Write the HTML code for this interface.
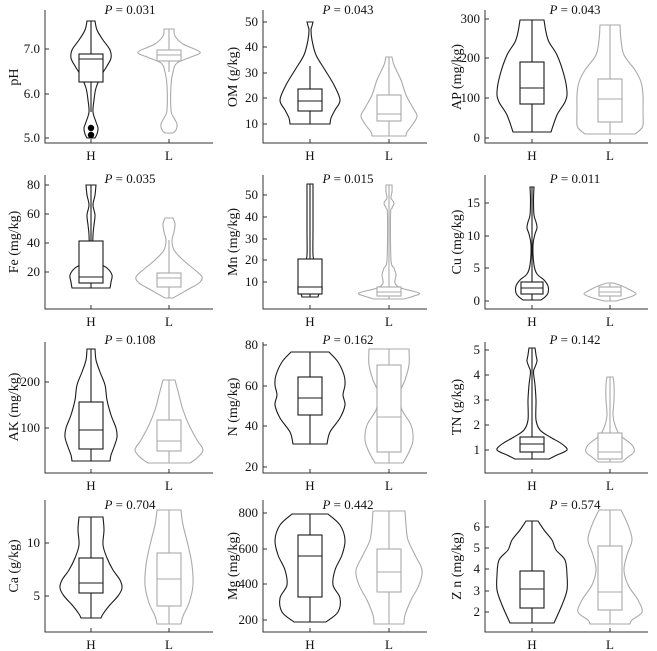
<!DOCTYPE html>
<html><head><meta charset="utf-8"><style>
html,body{margin:0;padding:0;background:#fff;}
svg{display:block;font-family:"Liberation Serif",serif;}
.t{font-size:13px;fill:#111;}
.a{font-size:14px;fill:#111;}
</style></head><body>
<svg id="s" width="657" height="651" viewBox="0 0 657 651" xmlns="http://www.w3.org/2000/svg">
<g id="g"></g>
<g class="t">
<text x="130" y="14" text-anchor="middle"><tspan font-style="italic">P</tspan> = 0.031</text>
<text x="348" y="14" text-anchor="middle"><tspan font-style="italic">P</tspan> = 0.043</text>
<text x="575" y="14" text-anchor="middle"><tspan font-style="italic">P</tspan> = 0.043</text>
<text x="130" y="183" text-anchor="middle"><tspan font-style="italic">P</tspan> = 0.035</text>
<text x="348" y="183" text-anchor="middle"><tspan font-style="italic">P</tspan> = 0.015</text>
<text x="575" y="183" text-anchor="middle"><tspan font-style="italic">P</tspan> = 0.011</text>
<text x="130" y="344" text-anchor="middle"><tspan font-style="italic">P</tspan> = 0.108</text>
<text x="348" y="344" text-anchor="middle"><tspan font-style="italic">P</tspan> = 0.162</text>
<text x="575" y="344" text-anchor="middle"><tspan font-style="italic">P</tspan> = 0.142</text>
<text x="130" y="509" text-anchor="middle"><tspan font-style="italic">P</tspan> = 0.704</text>
<text x="348" y="509" text-anchor="middle"><tspan font-style="italic">P</tspan> = 0.442</text>
<text x="575" y="509" text-anchor="middle"><tspan font-style="italic">P</tspan> = 0.574</text>
<text x="91" y="160" text-anchor="middle">H</text><text x="169" y="160" text-anchor="middle">L</text>
<text x="310" y="160" text-anchor="middle">H</text><text x="389" y="160" text-anchor="middle">L</text>
<text x="532" y="160" text-anchor="middle">H</text><text x="610" y="160" text-anchor="middle">L</text>
<text x="91" y="326" text-anchor="middle">H</text><text x="169" y="326" text-anchor="middle">L</text>
<text x="310" y="326" text-anchor="middle">H</text><text x="389" y="326" text-anchor="middle">L</text>
<text x="532" y="326" text-anchor="middle">H</text><text x="610" y="326" text-anchor="middle">L</text>
<text x="91" y="490" text-anchor="middle">H</text><text x="169" y="490" text-anchor="middle">L</text>
<text x="310" y="490" text-anchor="middle">H</text><text x="389" y="490" text-anchor="middle">L</text>
<text x="532" y="490" text-anchor="middle">H</text><text x="610" y="490" text-anchor="middle">L</text>
<text x="91" y="649" text-anchor="middle">H</text><text x="169" y="649" text-anchor="middle">L</text>
<text x="310" y="649" text-anchor="middle">H</text><text x="389" y="649" text-anchor="middle">L</text>
<text x="532" y="649" text-anchor="middle">H</text><text x="610" y="649" text-anchor="middle">L</text>
<g text-anchor="end">
<text x="40" y="53">7.0</text><text x="40" y="98">6.0</text><text x="40" y="142">5.0</text>
<text x="258" y="26">50</text><text x="258" y="51">40</text><text x="258" y="77">30</text><text x="258" y="102">20</text><text x="258" y="128">10</text>
<text x="480" y="23">300</text><text x="480" y="62">200</text><text x="480" y="102">100</text><text x="480" y="142">0</text>
<text x="40" y="189">80</text><text x="40" y="218">60</text><text x="40" y="247">40</text><text x="40" y="276">20</text>
<text x="258" y="199">50</text><text x="258" y="221">40</text><text x="258" y="243">30</text><text x="258" y="264">20</text><text x="258" y="286">10</text>
<text x="480" y="207">15</text><text x="480" y="240">10</text><text x="480" y="272">5</text><text x="480" y="305">0</text>
<text x="40" y="386">200</text><text x="40" y="432">100</text>
<text x="258" y="349">80</text><text x="258" y="390">60</text><text x="258" y="430">40</text><text x="258" y="471">20</text>
<text x="480" y="354">5</text><text x="480" y="379">4</text><text x="480" y="404">3</text><text x="480" y="429">2</text><text x="480" y="454">1</text>
<text x="40" y="547">10</text><text x="40" y="600">5</text>
<text x="258" y="517">800</text><text x="258" y="553">600</text><text x="258" y="588">400</text><text x="258" y="624">200</text>
<text x="480" y="531">6</text><text x="480" y="552">5</text><text x="480" y="573">4</text><text x="480" y="595">3</text><text x="480" y="616">2</text>
</g>
</g>
<g class="a" text-anchor="middle">
<text transform="translate(18,77) rotate(-90)">pH</text>
<text transform="translate(237,77) rotate(-90)">OM (g/kg)</text>
<text transform="translate(461,77) rotate(-90)">AP (mg/kg)</text>
<text transform="translate(18,242) rotate(-90)">Fe (mg/kg)</text>
<text transform="translate(237,242) rotate(-90)">Mn (mg/kg)</text>
<text transform="translate(461,242) rotate(-90)">Cu (mg/kg)</text>
<text transform="translate(18,407) rotate(-90)">AK (mg/kg)</text>
<text transform="translate(237,407) rotate(-90)">N (mg/kg)</text>
<text transform="translate(461,407) rotate(-90)">TN (g/kg)</text>
<text transform="translate(18,566) rotate(-90)">Ca (g/kg)</text>
<text transform="translate(237,566) rotate(-90)">Mg (mg/kg)</text>
<text transform="translate(461,566) rotate(-90)">Z n (mg/kg)</text>
</g>
</svg>
<script>
var NS="http://www.w3.org/2000/svg",g=document.getElementById("g");
function el(n,a){var e=document.createElementNS(NS,n);for(var k in a)e.setAttribute(k,a[k]);g.appendChild(e);return e;}
var cols=[{x:45,r:213,h:91,l:169},{x:263,r:427,h:310,l:389},{x:485,r:648,h:532,l:610}];
var rows=[{t:10,b:143},{t:175,b:309},{t:342,b:473},{t:500,b:632}];
var ticks=[[49,94,138],[22,47,73,98,124],[19,58,98,138],[185,214,243,272],[195,217,239,260,282],[203,236,268,301],[382,428],[345,386,426,467],[350,375,400,425,450],[543,596],[513,549,584,620],[527,548,569,591,612]];
for(var i=0;i<12;i++){var c=cols[i%3],r=rows[Math.floor(i/3)];
el("path",{d:"M"+c.x+" "+r.t+"V"+r.b+"H"+c.r,stroke:"#333",fill:"none","stroke-width":1});
ticks[i].forEach(function(y){el("line",{x1:c.x,x2:c.x+4,y1:y,y2:y,stroke:"#333"});});
[c.h,c.l].forEach(function(x){el("line",{x1:x,x2:x,y1:r.b,y2:r.b-4,stroke:"#333"});});}
function cr(pts){var d="";for(var i=0;i<pts.length-1;i++){var p0=pts[Math.max(i-1,0)],p1=pts[i],p2=pts[i+1],p3=pts[Math.min(i+2,pts.length-1)];
d+="C"+(p1[0]+(p2[0]-p0[0])/6).toFixed(1)+" "+(p1[1]+(p2[1]-p0[1])/6).toFixed(1)+" "+(p2[0]-(p3[0]-p1[0])/6).toFixed(1)+" "+(p2[1]-(p3[1]-p1[1])/6).toFixed(1)+" "+p2[0]+" "+p2[1];}return d;}
function V(cx,pts,box,wh,col){
var R=pts.map(function(p){return[cx+p[1],p[0]];}),L=pts.slice().reverse().map(function(p){return[cx-p[1],p[0]];});
var d="M"+L[L.length-1][0]+" "+L[L.length-1][1]+"L"+R[0][0]+" "+R[0][1]+cr(R)+"L"+L[0][0]+" "+L[0][1]+cr(L)+"Z";
el("path",{d:d,fill:"none",stroke:col,"stroke-width":1.1});
el("line",{x1:cx,x2:cx,y1:wh[0],y2:wh[1],stroke:col,"stroke-width":1.1});
var hw=box[3]||12;
el("rect",{x:cx-hw,y:box[0],width:2*hw,height:box[2]-box[0],fill:"#fff",stroke:col,"stroke-width":1.1});
el("line",{x1:cx-hw,x2:cx+hw,y1:box[1],y2:box[1],stroke:col,"stroke-width":1.1});}
var K="#1a1a1a",G="#aaaaaa";
V(91,[[21,4],[30,6],[40,12],[50,19],[58,20],[66,16],[76,10],[88,5],[100,3],[112,2],[122,5],[128,7],[134,6],[138,4]],[54,59,82],[21,112],K);
el("circle",{cx:91,cy:128,r:3.2,fill:"#000"});el("circle",{cx:91,cy:135,r:3.2,fill:"#000"});
V(169,[[29,5],[36,6],[44,14],[52,31],[57,22],[63,8],[72,4],[85,2],[110,2],[118,5],[124,8],[130,7],[133,4]],[50,55,61],[29,72],G);
V(310,[[22,3],[26,2],[30,1],[40,2],[55,6],[70,15],[85,24],[100,30],[110,25],[118,21],[124,20]],[89,101,111],[66,124],K);
V(389,[[57,3],[65,5],[80,12],[95,17],[108,24],[116,28],[124,24],[132,18],[136,17]],[95,114,121],[57,136],G);
V(532,[[20,12],[32,14],[42,17],[55,25],[75,32],[92,35],[102,33],[115,25],[132,19]],[62,88,104],[20,132],K);
V(610,[[25,10],[40,11],[55,14],[70,25],[82,31],[95,33],[110,33],[125,33],[130,30],[134,25]],[79,99,122],[25,134],G);
V(91,[[185,5],[195,4],[205,2],[215,4],[225,3],[235,2],[255,2],[262,6],[268,16],[275,21],[282,20],[288,19]],[241,277,283],[185,288],K);
V(169,[[218,4],[224,6],[232,5],[240,3],[250,5],[260,14],[270,26],[277,33],[283,30],[290,18],[298,4]],[273,278,287],[240,298],G);
V(310,[[184,3],[200,3],[230,3],[255,3],[262,5],[270,8],[280,11],[290,12],[294,9],[297,8]],[259,287,294],[184,297],K);
V(389,[[185,3],[192,3],[198,2],[203,5],[208,3],[215,1.5],[260,2],[268,5],[275,7],[283,6],[288,12],[293,30],[296,25],[299,15]],[287,292,296],[185,299],G);
V(532,[[187,2],[200,1.5],[215,2],[222,4],[228,5],[234,3],[245,1],[265,2],[274,5],[280,12],[286,16],[293,16],[297,13],[300,9]],[282,288,294,11],[187,300],K);
V(610,[[283,3],[286,12],[291,22],[294,26],[297,20],[301,6]],[287,292,296,11],[283,301],G);
// AK
V(91,[[349,4],[360,5],[372,9],[385,14],[400,16],[415,20],[428,25],[437,26],[447,23],[455,20],[461,19]],[402,430,449],[349,461],K);
V(169,[[380,6],[395,10],[410,14],[425,20],[440,28],[450,34],[458,28],[463,21]],[420,441,451],[380,463],G);
V(310,[[352,19],[362,28],[375,34],[385,35],[395,33],[405,35],[418,30],[432,20],[444,17]],[377,398,415],[352,444],K);
V(389,[[349,20],[365,20],[380,16],[395,10],[410,13],[425,22],[440,24],[452,20],[463,14]],[365,417,452],[349,463],G);
V(532,[[348,3],[355,4],[361,5],[367,3],[372,1.5],[385,3],[400,4],[420,4],[430,8],[437,18],[444,30],[450,35],[455,25],[459,17]],[437,444,452],[348,459],K);
V(610,[[377,3],[385,4],[400,4],[415,3],[425,5],[435,10],[445,22],[452,24],[457,18],[462,12]],[433,452,459],[377,462],G);
// Ca
V(91,[[517,12],[530,13],[545,12],[558,16],[570,22],[580,29],[588,31],[596,27],[606,18],[614,12],[618,10]],[558,583,593],[517,618],K);
V(169,[[510,12],[525,14],[545,19],[565,23],[585,24],[603,20],[616,14],[624,12]],[553,579,606],[510,624],G);
V(310,[[514,18],[525,30],[540,35],[555,32],[570,25],[585,23],[598,30],[612,28],[622,16]],[535,556,597],[514,622],K);
V(389,[[511,16],[525,17],[540,19],[555,26],[570,33],[585,30],[600,22],[615,16],[624,15]],[549,572,592],[511,624],G);
V(532,[[521,6],[530,12],[540,20],[550,24],[560,33],[575,35],[590,35],[605,30],[623,22]],[571,589,608],[521,623],K);
V(610,[[510,11],[525,18],[540,22],[555,17],[570,14],[585,18],[600,28],[612,32],[620,22],[624,20]],[546,592,610],[510,624],G);
</script>
</body></html>
